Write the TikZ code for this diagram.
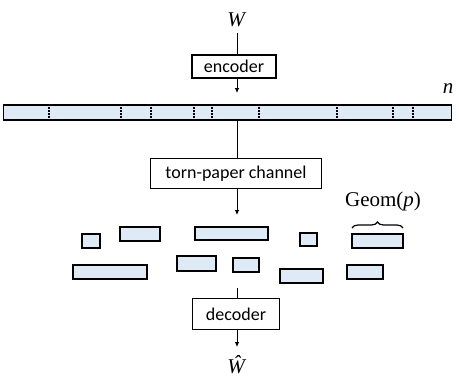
\documentclass[tikz,border=0pt]{standalone}
\usepackage{fontspec}
\setmainfont{Liberation Serif}
\newfontfamily\boxfont{Carlito}
\usetikzlibrary{arrows.meta,decorations.pathreplacing}
\definecolor{paper}{HTML}{DEEBF7}
\tikzset{
  block/.style={draw, line width=1.8pt, fill=white, inner sep=0pt,
    font=\boxfont\fontsize{18}{20}\selectfont},
  strip/.style={draw, line width=1.7pt, fill=paper},
  cut/.style={line width=1.3pt, dash pattern=on 1.6pt off 1.4pt},
  flow/.style={line width=0.8pt},
  flowarr/.style={line width=0.8pt, -{Latex[length=5pt,width=4.5pt]}},
  lbl/.style={inner sep=0pt, font=\fontsize{21}{24}\selectfont},
}
\begin{document}
\begin{tikzpicture}[x=1pt,y=-1pt]
\useasboundingbox (0,0) rectangle (459,378);

% message
\node[lbl, anchor=base] (W) at (237,26) {\textit{W}};

% encoder
\node[block, minimum width=84pt, minimum height=23pt] (enc) at (234,66.5) {encoder};
\coordinate (wtop) at (237,33);
\coordinate (encout) at (237,93);
\draw[flow] (wtop) -- (enc.north -| W);
\draw[flowarr] (enc.south -| W) -- (encout);

% transmitted codeword of length n, with the tear positions
\node[strip, minimum width=448pt, minimum height=15pt, inner sep=0pt] (tape) at (227.5,112.8) {};
\foreach \x in {49,121,151,194,212,259,337,393,413}
  \draw[cut] (\x,107) -- (\x,119);
\node[lbl, anchor=base] (n) at (448,93) {\textit{n}};

% channel
\node[block, minimum width=171pt, minimum height=30pt] (torn) at (236,173.5) {torn-paper channel};
\coordinate (tornout) at (237,215);
\draw[flow] (tape.south -| W) -- (torn.north -| W);
\draw[flowarr] (torn.south -| W) -- (tornout);

% shuffled pieces
\foreach \xa/\ya/\xb/\yb in {
  82/234/100/248, 120/227/160/241, 195/227/268/240, 300/233/317/246, 352/234/403/248,
  73/265/147/279, 177/256/216/271, 233/258/259/272, 280/269/323/283, 347/265/383/279}
  \draw[strip] (\xa,\ya) rectangle (\xb,\yb);

% piece length annotation
\draw[line width=1.2pt, decorate, decoration={brace, amplitude=6pt}] (352,228) -- (403,228);
\node[lbl, anchor=base] (geom) at (383,206) {Geom(\textit{p})};

% decoder
\coordinate (decin) at (237,288);
\node[block, minimum width=87pt, minimum height=31pt] (dec) at (236,314) {decoder};
\draw[flow] (decin) -- (dec.north -| W);
\coordinate (decout) at (237,347);
\draw[flowarr] (dec.south -| W) -- (decout);
\node[lbl, anchor=base] (What) at (237,373) {\textit{\^W}};
\end{tikzpicture}
\end{document}
